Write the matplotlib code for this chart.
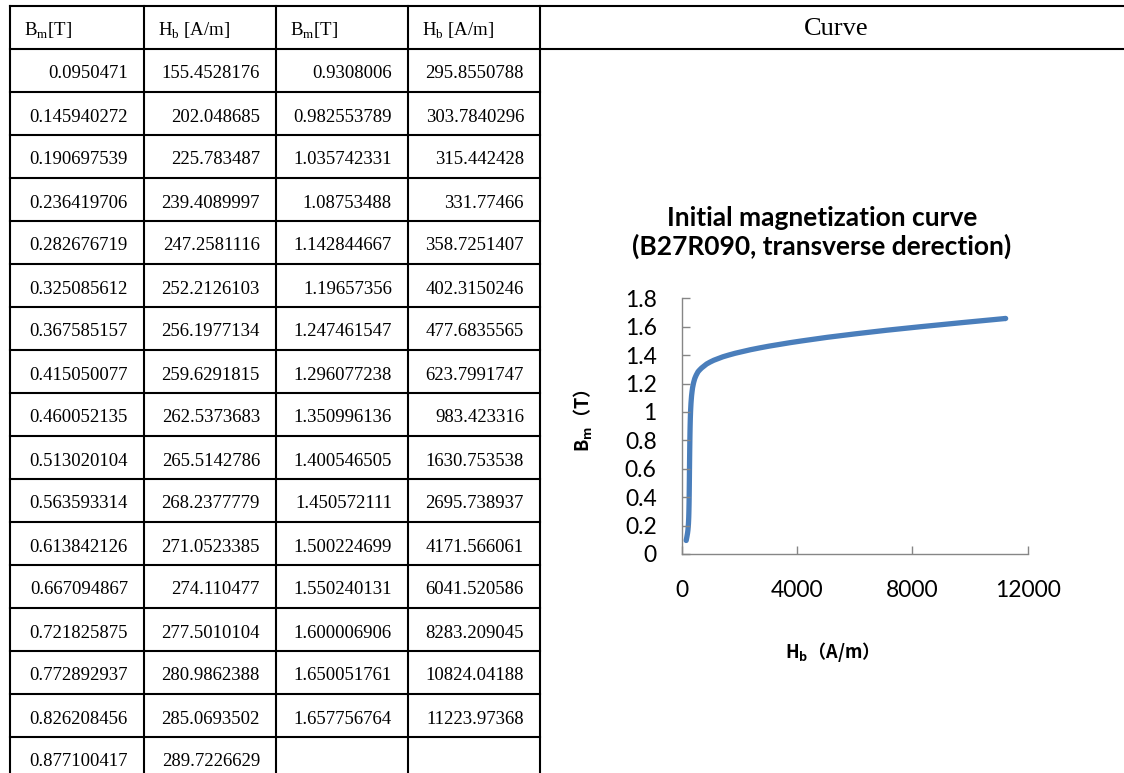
"""B27R090 initial magnetization data: value table with the B-H curve beside it."""

import matplotlib
matplotlib.use("Agg")
import matplotlib.pyplot as plt
import numpy as np
from matplotlib.path import Path
from matplotlib.patches import PathPatch
from matplotlib.ticker import FuncFormatter, MultipleLocator


# Measured points, transverse direction
bm_t = [
    0.0950471, 0.145940272, 0.190697539, 0.236419706, 0.282676719,
    0.325085612, 0.367585157, 0.415050077, 0.460052135, 0.513020104,
    0.563593314, 0.613842126, 0.667094867, 0.721825875, 0.772892937,
    0.826208456, 0.877100417,
    0.9308006, 0.982553789, 1.035742331, 1.08753488, 1.142844667,
    1.19657356, 1.247461547, 1.296077238, 1.350996136, 1.400546505,
    1.450572111, 1.500224699, 1.550240131, 1.600006906, 1.650051761,
    1.657756764,
]
hb_am = [
    155.4528176, 202.048685, 225.783487, 239.4089997, 247.2581116,
    252.2126103, 256.1977134, 259.6291815, 262.5373683, 265.5142786,
    268.2377779, 271.0523385, 274.110477, 277.5010104, 280.9862388,
    285.0693502, 289.7226629,
    295.8550788, 303.7840296, 315.442428, 331.77466, 358.7251407,
    402.3150246, 477.6835565, 623.7991747, 983.423316, 1630.753538,
    2695.738937, 4171.566061, 6041.520586, 8283.209045, 10824.04188,
    11223.97368,
]

header_labels = [r"B$_\mathregular{m}$[T]", r"H$_\mathregular{b}$ [A/m]",
                 r"B$_\mathregular{m}$[T]", r"H$_\mathregular{b}$ [A/m]"]
x_ticks = [0, 4000, 8000, 12000]

W, H = 1124, 773
COL_X = [10, 144, 276, 408, 540]
TOP, HEAD_BOT, ROW_H = 6, 49, 43
SERIF = "Liberation Serif"
CURVE_BLUE = "#4A7EBB"
AXIS_GRAY = "#868686"


def smooth_path(x, y):
    """Catmull-Rom style cubic path through the points (like a smoothed line)."""
    pts = np.column_stack([x, y])
    n = len(pts)
    verts = [pts[0]]
    codes = [Path.MOVETO]
    for i in range(n - 1):
        p0 = pts[i - 1] if i > 0 else pts[i]
        p1, p2 = pts[i], pts[i + 1]
        p3 = pts[i + 2] if i + 2 < n else pts[i + 1]
        verts += [p1 + (p2 - p0) / 6, p2 - (p3 - p1) / 6, p2]
        codes += [Path.CURVE4] * 3
    return Path(verts, codes)


fig = plt.figure(figsize=(W / 100, H / 100), dpi=100)

# full-figure layer in pixel coordinates for the table
bg = fig.add_axes([0, 0, 1, 1])
bg.set_xlim(0, W)
bg.set_ylim(H, 0)
bg.axis("off")

lw = 1.5
bg.plot([COL_X[0], W], [TOP, TOP], color="black", lw=lw)
bg.plot([COL_X[0], W], [HEAD_BOT, HEAD_BOT], color="black", lw=lw)
for i in range(1, 17):
    y = HEAD_BOT + i * ROW_H
    bg.plot([COL_X[0], COL_X[-1]], [y, y], color="black", lw=lw)
for x in COL_X:
    bg.plot([x, x], [TOP, H + 5], color="black", lw=lw, clip_on=False)

for j, lab in enumerate(header_labels):
    bg.text(COL_X[j] + 14, TOP + 30, lab, family=SERIF, fontsize=13.5,
            ha="left", va="baseline")
bg.text(836, 35, "Curve", family=SERIF, fontsize=19, ha="center", va="baseline")

half = 17
columns = [bm_t[:half], hb_am[:half], bm_t[half:], hb_am[half:]]
for j, vals in enumerate(columns):
    for i, v in enumerate(vals):
        y = HEAD_BOT + i * ROW_H + 29.5
        bg.text(COL_X[j + 1] - 16, y, str(v), family=SERIF, fontsize=13.5,
                ha="right", va="baseline")

# chart titles and axis labels
bg.text(822, 255, "Initial magnetization curve\n(B27R090, transverse derection)",
        family="Lato", fontweight="bold", fontsize=19, ha="center",
        va="baseline", linespacing=1.2)
bg.text(583, 421, r"B$_\mathregular{m}$（T）", family="Noto Sans CJK SC",
        fontweight="bold", fontsize=13, rotation=90, ha="center", va="center")
bg.text(827, 658, r"H$_\mathregular{b}$（A/m）", family="Noto Sans CJK SC",
        fontweight="bold", fontsize=13, ha="center", va="baseline")

# the curve
ax = fig.add_axes([681.7 / W, (H - 554) / H, 346 / W, 255.7 / H])
ax.set_facecolor("none")
ax.add_patch(PathPatch(smooth_path(hb_am, bm_t), fill=False, ec=CURVE_BLUE,
                       lw=3.8, capstyle="round", joinstyle="round"))
ax.set_xlim(0, 12000)
ax.set_ylim(0, 1.8)
ax.set_xticks(x_ticks)
ax.yaxis.set_major_locator(MultipleLocator(0.2))
ax.yaxis.set_major_formatter(FuncFormatter(lambda v, _: f"{v:g}"))
for side in ("top", "right"):
    ax.spines[side].set_visible(False)
for side in ("left", "bottom"):
    ax.spines[side].set_color(AXIS_GRAY)
    ax.spines[side].set_linewidth(1.0)
ax.tick_params(direction="in", length=6, width=1.0, color=AXIS_GRAY,
               labelsize=16.5)
ax.tick_params(axis="x", pad=19)
ax.tick_params(axis="y", pad=18)
for lab in ax.get_xticklabels() + ax.get_yticklabels():
    lab.set_family("Lato")

fig.savefig("out.png", dpi=100)
